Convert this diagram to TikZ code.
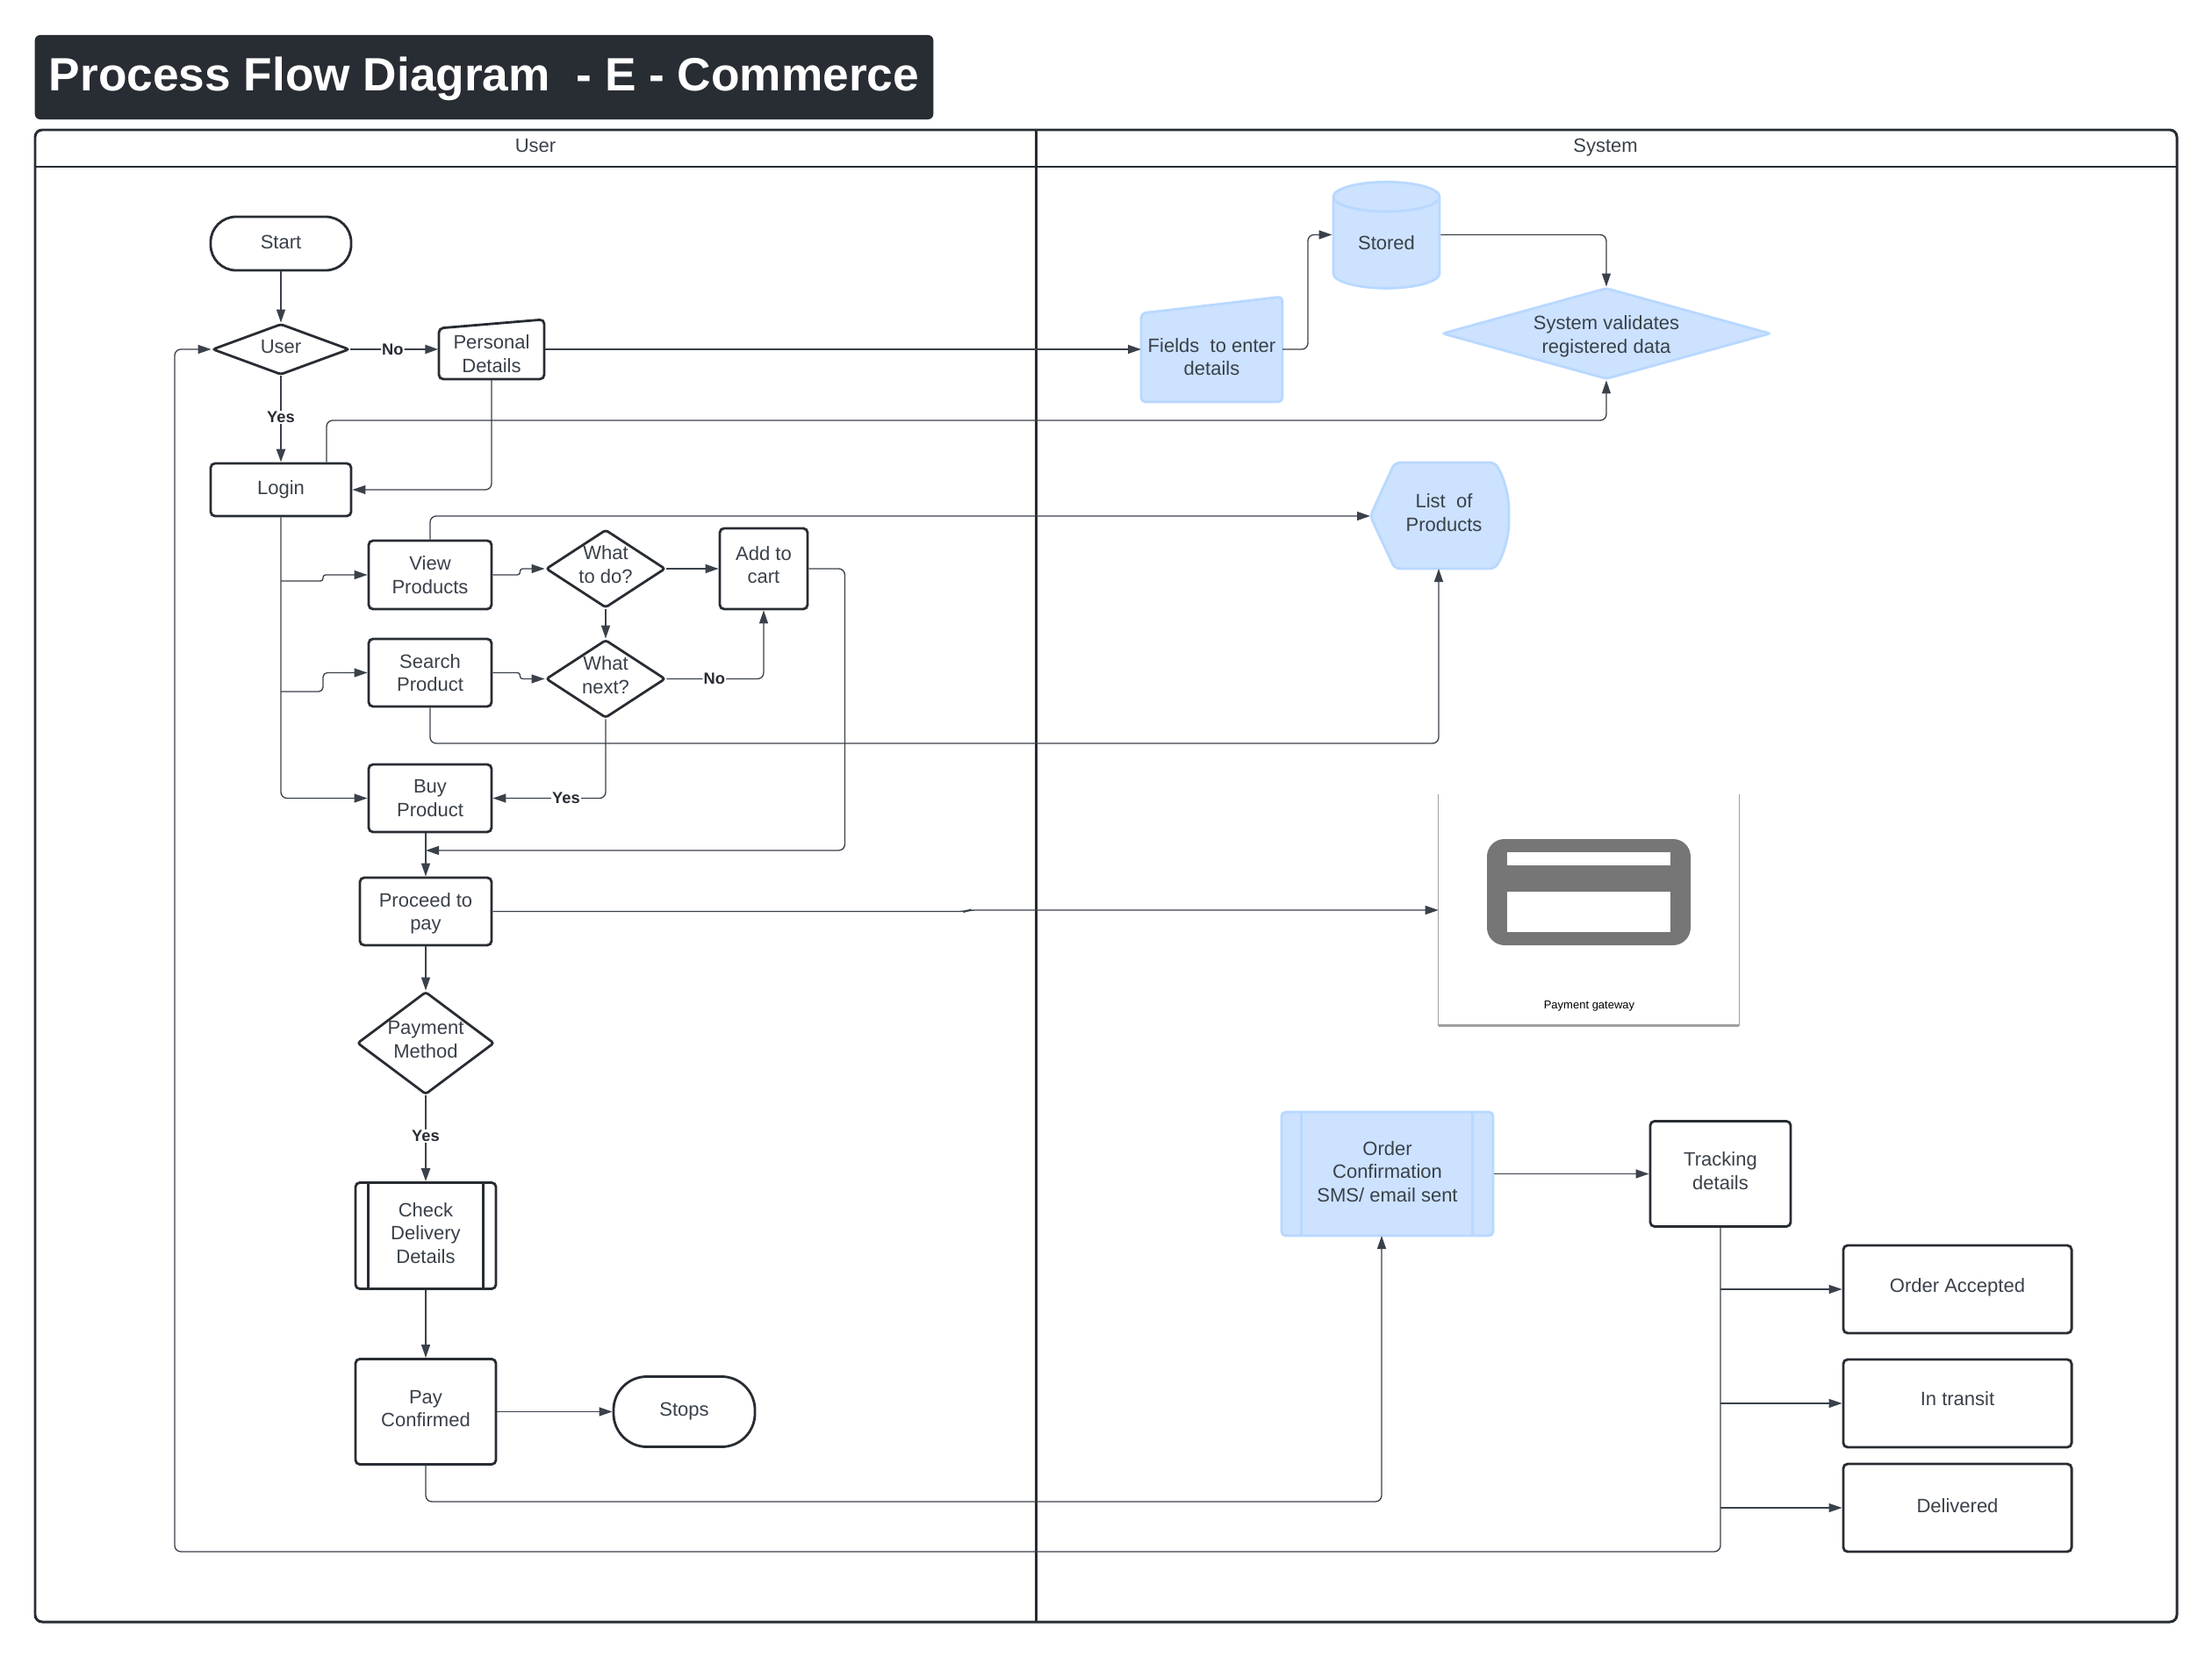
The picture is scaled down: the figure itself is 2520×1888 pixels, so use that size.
\documentclass[tikz,border=0pt]{standalone}
\usepackage{fontspec}
\setmainfont{Liberation Sans}
\usepackage{tikz}
\usetikzlibrary{arrows.meta,calc,shapes.geometric}
\definecolor{lineDark}{HTML}{282C33}
\definecolor{textDark}{HTML}{3A414A}
\definecolor{fillBlue}{HTML}{CCE2FF}
\definecolor{edgeBlue}{HTML}{B8D8FF}
\definecolor{cardGrey}{HTML}{767676}
\definecolor{frameGrey}{HTML}{A0A0A0}
\newcommand{\flowFont}{\fontsize{6.26}{7.53}\selectfont}
\newcommand{\diaText}[2][-.04cm]{\smash{\raisebox{#1}{\makebox[0pt]{\begin{tabular}{@{}c@{}}#2\end{tabular}}}}}
\tikzset{
  flowBox/.style={rectangle,draw=lineDark,line width=.8pt,rounded corners=.05cm,fill=white,text=textDark,font=\flowFont,align=center,inner sep=0pt,minimum width=#1},
  startStop/.style={flowBox=#1,rounded corners=.29cm},
  decision/.style={diamond,draw=lineDark,line width=.8pt,rounded corners=.03cm,fill=white,text=textDark,font=\flowFont,inner sep=0pt},
  blueBox/.style={flowBox=#1,draw=edgeBlue,fill=fillBlue},
  plainText/.style={rectangle,text=textDark,font=\flowFont,align=center,inner sep=0pt},
  link/.style={draw=textDark,line width=.38pt,rounded corners=.07cm,-{Triangle[length=.15cm,width=.1cm]}},
  linkBold/.style={link,line width=.7pt},
  yesNo/.style={fill=white,text=lineDark,inner sep=.3pt,font=\fontsize{5.2}{6}\selectfont\bfseries},
}
\begin{document}
\begin{tikzpicture}[x=.01cm,y=-.01cm]
\useasboundingbox (0,0) rectangle (2520,1888);
% title bar
\node[rectangle,fill=lineDark,rounded corners=.06cm,minimum width=10.23cm,minimum height=.96cm,inner sep=0pt,text=white,font=\fontsize{15.14}{18}\selectfont\bfseries] (title) at (551.5,88) {\smash{\raisebox{-.155cm}{Process Flow Diagram\ \ - E - Commerce}}};
% swimlanes
\draw[lineDark,line width=.85pt,rounded corners=.08cm] (40,148) rectangle (2480,1848);
\draw[lineDark,line width=.85pt] (40,190)--(2480,190);
\draw[lineDark,line width=.85pt] (1180,148)--(1180,1848);
\node[plainText] (userLane) at (610,166) {User};
\node[plainText] (systemLane) at (1829,168) {System};
% user lane
\node[startStop=1.6cm,minimum height=.61cm] (start) at (320,277.5) {\diaText[-.059cm]{Start}};
\node[decision,minimum width=1.56cm,minimum height=.58cm] (user) at (320,398) {\diaText[-.048cm]{User}};
\draw[lineDark,line width=.8pt,fill=white,rounded corners=.05cm] (500,374)--(620,364)--(620,432)--(500,432)--cycle;
\node[plainText,minimum width=1.2cm,minimum height=.58cm] (personal) at (560,403) {Personal\\Details};
\node[flowBox=1.6cm,minimum height=.6cm] (login) at (320,558) {Login};
\node[flowBox=1.4cm,minimum height=.78cm] (view) at (490,655) {View\\Products};
\node[decision,minimum width=1.36cm,minimum height=.89cm] (whatDo) at (690,648) {\diaText[-.028cm]{What\\to do?}};
\node[flowBox=1cm,minimum height=.92cm] (cart) at (870,648) {\diaText[-.035cm]{Add to\\cart}};
\node[flowBox=1.4cm,minimum height=.77cm] (search) at (490,766.5) {Search\\Product};
\node[decision,minimum width=1.36cm,minimum height=.89cm] (whatNext) at (690,773.5) {\diaText[-.036cm]{What\\next?}};
\node[flowBox=1.4cm,minimum height=.77cm] (buy) at (490,909.5) {Buy\\Product};
\node[flowBox=1.5cm,minimum height=.77cm] (proceed) at (485,1038.5) {\diaText[-.08cm]{Proceed to\\pay}};
\node[decision,minimum width=1.56cm,minimum height=1.17cm] (method) at (485,1188.5) {\diaText[-.036cm]{Payment\\Method}};
\node[flowBox=1.6cm,minimum height=1.21cm] (check) at (485,1408) {\diaText[-.049cm]{Check\\Delivery\\Details}};
\draw[lineDark,line width=.8pt] ([xshift=.16cm]check.north west)--([xshift=.16cm]check.south west);
\draw[lineDark,line width=.8pt] ([xshift=-.16cm]check.north east)--([xshift=-.16cm]check.south east);
\node[flowBox=1.6cm,minimum height=1.2cm] (confirmed) at (485,1608.5) {\diaText[-.038cm]{Pay\\Confirmed}};
\node[startStop=1.61cm,minimum height=.8cm,rounded corners=.38cm] (stops) at (779.5,1608.5) {\diaText[-.048cm]{Stops}};
% system lane
\draw[edgeBlue,line width=.8pt,fill=fillBlue,rounded corners=.05cm] (1300,357)--(1461,338)--(1461,458)--(1300,458)--cycle;
\node[plainText,minimum width=1.61cm,minimum height=1.01cm] (fields) at (1380.5,407.5) {\diaText[-.069cm]{Fields\ \ to enter\\details}};
\coordinate (fieldsIn) at (1300,398);
\coordinate (fieldsOut) at (1461,398);
\node[cylinder,shape border rotate=90,aspect=.52,draw=edgeBlue,line width=.8pt,fill=fillBlue,text=textDark,font=\flowFont,align=center,inner sep=0pt,minimum width=1.21cm,minimum height=1.21cm] (stored) at (1579.5,277) {Stored};
\coordinate (storedIn) at ([yshift=.095cm]stored.west);
\coordinate (storedOut) at ([yshift=.095cm]stored.east);
\node[decision,draw=edgeBlue,fill=fillBlue,minimum width=3.74cm,minimum height=1.04cm] (validate) at (1830,380) {\diaText[-.088cm]{System validates\\registered data}};
\draw[edgeBlue,line width=.8pt,fill=fillBlue,rounded corners=.06cm] (1561,588)--(1589,527)--(1703,527) .. controls (1714,545) and (1719,565) .. (1719,588) .. controls (1719,610) and (1714,630) .. (1703,648)--(1589,648)--cycle;
\node[plainText,minimum width=1.58cm,minimum height=1.21cm] (list) at (1645,587.5) {\diaText[-.044cm]{List\ \ of\\Products}};
\coordinate (listIn) at (1561,588);
\coordinate (listUp) at (1639,648);
% payment gateway
\node[rectangle,inner sep=0pt,minimum width=3.41cm,minimum height=2.62cm] (gateway) at (1810,1037) {};
\draw[frameGrey,line width=.4pt] (gateway.north west)--(gateway.south west);
\draw[frameGrey,line width=.4pt] (gateway.north east)--(gateway.south east);
\draw[frameGrey,line width=.9pt] (gateway.south west)--(gateway.south east);
\fill[cardGrey,rounded corners=.2cm] (1694,956) rectangle (1926,1077);
\fill[white] (1717,971) rectangle (1903,986);
\fill[white] (1717,1016) rectangle (1903,1062);
\node[rectangle,inner sep=0pt,text=black,font=\fontsize{3.7}{4.5}\selectfont] (gatewayText) at (1810.5,1146) {Payment gateway};
% order and tracking
\node[blueBox=2.41cm,minimum height=1.41cm] (order) at (1580.5,1337.5) {\diaText[-.05cm]{Order\\Confirmation\\SMS/ email sent}};
\draw[edgeBlue,line width=.8pt] ([xshift=.24cm]order.north west)--([xshift=.24cm]order.south west);
\draw[edgeBlue,line width=.8pt] ([xshift=-.25cm]order.north east)--([xshift=-.25cm]order.south east);
\node[flowBox=1.6cm,minimum height=1.2cm] (tracking) at (1960,1337.5) {\diaText[-.043cm]{Tracking\\details}};
\node[flowBox=2.6cm,minimum height=1cm] (accepted) at (2230,1469) {\diaText[-.034cm]{Order Accepted}};
\node[flowBox=2.6cm,minimum height=1cm] (transit) at (2230,1599) {\diaText[-.028cm]{In transit}};
\node[flowBox=2.6cm,minimum height=1cm] (delivered) at (2230,1718) {\diaText[-.05cm]{Delivered}};
% connectors, user side
\draw[link] (start)--(user);
\draw[linkBold] (user)--(personal.west |- user.east) node[yesNo,pos=.48] (noFirst) {No};
\draw[linkBold] (user)--(login) node[yesNo,pos=.48] (yesFirst) {Yes};
\draw[link] (personal.south) |- (login.east);
\draw[link] ([xshift=.52cm]login.north) |- (1830,479) -- (validate.south);
\coordinate (branchView) at (320,662);
\coordinate (branchSearch) at (320,788);
\draw[link] (login.south) |- (buy.west);
\draw[link,rounded corners=.03cm] (branchView)--++(48,0) |- (view.west);
\draw[link,rounded corners=.05cm] (branchSearch)--++(48,0) |- (search.west);
\draw[link,rounded corners=.03cm] (view.east)--++(31,0) |- (whatDo.west);
\draw[link,rounded corners=.03cm] (search.east)--++(31,0) |- (whatNext.west);
\draw[link] (whatDo.east)--(cart.west);
\draw[link] (whatDo.south)--(whatNext.north);
\draw[link] (whatNext.east) -| (cart.south) node[yesNo,pos=.246] (noSecond) {No};
\draw[link] (whatNext.south) |- (buy.east) node[yesNo,pos=.675] (yesSecond) {Yes};
\draw[link] (cart.east)--++(41,0) |- (485,969);
\draw[link] (proceed.north |- buy.south)--(proceed.north);
\draw[link] (view.north) |- (listIn);
\draw[link] (search.south) |- (1639,847) -- (listUp);
\draw[link] (proceed.east)--(1100,1038.5)--(1104,1037)--(gateway.west);
\draw[link] (proceed.south)--(method.north);
\draw[linkBold] (method.south)--(check.north) node[yesNo,pos=.47] (yesThird) {Yes};
\draw[link] (check.south)--(confirmed.north);
\draw[link] (confirmed.east)--(stops.west);
\draw[link] (confirmed.south) |- (1574,1711) -- (1574,1408);
% connectors, system side
\draw[link] (personal.east |- user.east)--(fieldsIn);
\draw[link] (fieldsOut)--(1490,398)--(1490,267.5)--(storedIn);
\draw[link] (storedOut) -| (validate.north);
\draw[link] (order.east)--(tracking.west);
\coordinate (loopCorner) at (199,1768);
\draw[link] (tracking.south) |- (loopCorner) |- (user.west);
\draw[link] (tracking.south |- accepted.west)--(accepted.west);
\draw[link] (tracking.south |- transit.west)--(transit.west);
\draw[link] (tracking.south |- delivered.west)--(delivered.west);
\end{tikzpicture}
\end{document}
